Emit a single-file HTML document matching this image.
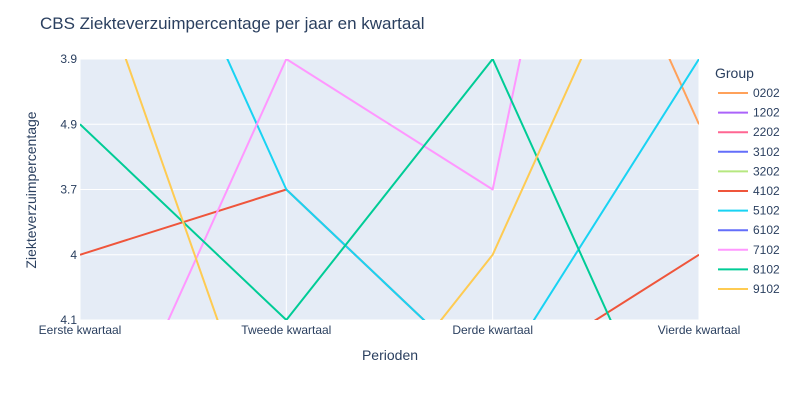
<!DOCTYPE html>
<html><head><meta charset="utf-8"><style>
html,body{margin:0;background:#fff;font-family:"Liberation Sans",sans-serif;overflow:hidden;width:800px;height:400px}
svg{display:block}
svg text{font-family:"Liberation Sans",sans-serif;fill:#2a3f5f}
</style></head><body>
<svg id="chart" width="800" height="400" xmlns="http://www.w3.org/2000/svg">
<text x="40" y="29" font-size="17">CBS Ziekteverzuimpercentage per jaar en kwartaal</text>
<defs><clipPath id="clip"><rect x="80" y="59" width="619" height="261"/></clipPath></defs>
<rect x="80" y="59" width="619" height="261" fill="#e5ecf6"/>
<g id="grid"></g>
<g id="lines" clip-path="url(#clip)"></g>
<g id="ticks"></g>
<text x="390" y="360" font-size="14" text-anchor="middle">Perioden</text>
<text transform="translate(36,190) rotate(-90)" font-size="14" text-anchor="middle">Ziekteverzuimpercentage</text>
<g id="legend"></g>
</svg>
<script>
const xCats=["Eerste kwartaal","Tweede kwartaal","Derde kwartaal","Vierde kwartaal"];
// category order of y axis (bottom to top); only 4.1..3.9 fall inside the visible range
const yCats=["4.4","4.3","4.2","4.1","4","3.7","4.9","3.9","3.8","4.5","4.6","4.7","4.8","5.0","5.1","5.2","5.3","5.4","5.5","5.6","5.7"];
const yTicks=["4.1","4","3.7","4.9","3.9"];
const groups=["0202","1202","2202","3102","3202","4102","5102","6102","7102","8102","9102"];
const colors=["#FFA15A","#AB63FA","#FF6692","#636EFA","#B6E880","#EF553B","#19D3F3","#636EFA","#FF97FF","#00CC96","#FECB52"];
const s0202=[null,null,"5.0","4.9"];
const s4102=["4","3.7","4.2","4"];
const s5102=["4.8","3.7","4.2","3.9"];
const s7102=["4.4","3.9","3.7","5.7"];
const s8102=["4.9","4.1","3.9","4.4"];
const s9102=["4.5","4.4","4","4.7"];
const seriesData={"0202":s0202,"4102":s4102,"5102":s5102,"7102":s7102,"8102":s8102,"9102":s9102};
const NS="http://www.w3.org/2000/svg";
function xPos(c){return 80+xCats.indexOf(c)*619/3;}
function yPos(v){return 320-(yCats.indexOf(v)-yCats.indexOf("4.1"))*261/4;}
function mk(t,a,p){const e=document.createElementNS(NS,t);for(const k in a)e.setAttribute(k,a[k]);p.appendChild(e);return e;}
const grid=document.getElementById('grid'),ticks=document.getElementById('ticks');
xCats.forEach(c=>{const x=xPos(c);
 const g=mk('line',{x1:x,x2:x,y1:59,y2:320,stroke:'#fff','stroke-width':1},grid);
 
 
 const t=mk('text',{x:x,y:334,'font-size':12,'text-anchor':'middle'},ticks);t.textContent=c;
 
 
});
yTicks.forEach(v=>{const y=yPos(v);
 const g=mk('line',{x1:80,x2:699,y1:y,y2:y,stroke:'#fff','stroke-width':1},grid);
 
 
 const t=mk('text',{x:77,y:y+4,'font-size':12,'text-anchor':'end'},ticks);t.textContent=v;
 
 
});
const lines=document.getElementById('lines'),legend=document.getElementById('legend');
groups.forEach((g,i)=>{
 const d=seriesData[g];
 if(d){let pts=[];d.forEach((v,j)=>{if(v!==null)pts.push(xPos(xCats[j])+','+yPos(v));});
  const p=mk('polyline',{points:pts.join(' '),fill:'none',stroke:colors[i],'stroke-width':2,'stroke-linejoin':'round'},lines);
  
  
 }
 const y=93+i*19.6;
 const l=mk('line',{x1:718,x2:748,y1:y,y2:y,stroke:colors[i],'stroke-width':2},legend);
 
 
 const t=mk('text',{x:753,y:y+4,'font-size':12},legend);t.textContent=g;
 
 
});
const lt=mk('text',{x:715,y:78,'font-size':14},legend);lt.textContent="Group";


</script>
</body></html>
